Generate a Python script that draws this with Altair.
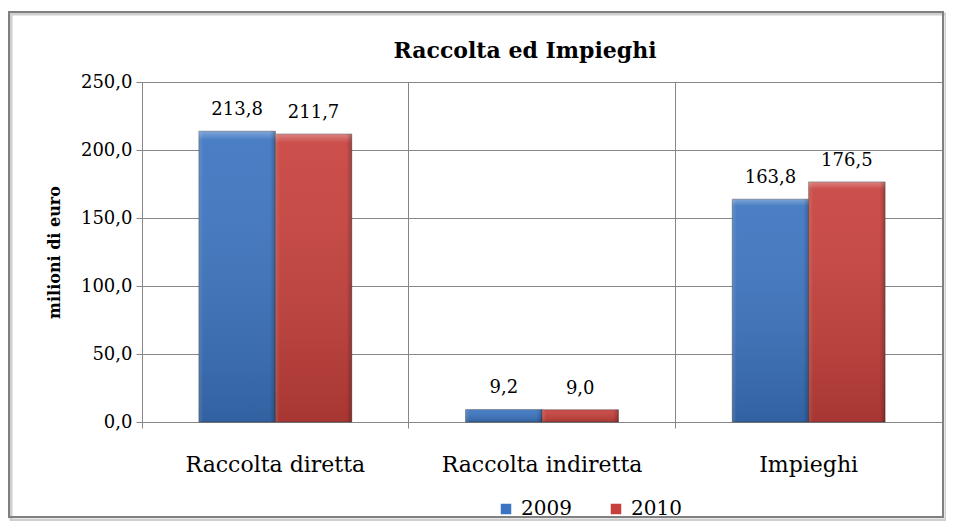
import altair as alt
import pandas as pd

categories = ["Raccolta diretta", "Raccolta indiretta", "Impieghi"]
years = ["2009", "2010"]
values_2009 = [213.8, 9.2, 163.8]
values_2010 = [211.7, 9.0, 176.5]
y_ticks = [0, 50, 100, 150, 200, 250]
series_colors = ["#3b74c0", "#c7403b"]
chart_title = "Raccolta ed Impieghi"

rows = []
for c, a, b in zip(categories, values_2009, values_2010):
    rows.append({"cat": c, "year": years[0], "val": a})
    rows.append({"cat": c, "year": years[1], "val": b})
df = pd.DataFrame(rows)
df["label"] = df["val"].map(lambda v: f"{v:.1f}".replace(".", ","))

FONT = "DejaVu Serif"
GRID = "#868686"
W, H = 800, 340

x = alt.X(
    "cat:N", sort=categories, title=None,
    scale=alt.Scale(paddingInner=0, paddingOuter=0),
    axis=alt.Axis(bandPosition=0, grid=True, gridColor=GRID, gridOpacity=1,
                  domainColor=GRID, tickColor=GRID, tickSize=6,
                  labelFont=FONT, labelFontSize=22, labelColor="black",
                  labelPadding=26, labelAngle=0, labelLimit=400),
)
xo = alt.XOffset("year:N", sort=years,
                 scale=alt.Scale(domain=years, paddingInner=0, paddingOuter=0.745))
y = alt.Y(
    "val:Q", scale=alt.Scale(domain=[0, 250], nice=False),
    axis=alt.Axis(values=y_ticks, labelExpr="replace(format(datum.value, '.1f'), '.', ',')",
                  title="milioni di euro", titleFont=FONT, titleFontSize=16,
                  titleFontWeight="bold", titleColor="black", titlePadding=18,
                  grid=True, gridColor=GRID, gridOpacity=1, domainColor=GRID,
                  tickColor=GRID, tickSize=6, labelFont=FONT, labelFontSize=18,
                  labelColor="black", labelPadding=4),
)
color = alt.Color(
    "year:N", sort=years, scale=alt.Scale(domain=years, range=series_colors),
    legend=alt.Legend(title=None, orient="none", legendX=354, legendY=417,
                      direction="horizontal", symbolType="square", symbolSize=110,
                      symbolStrokeWidth=0, symbolOpacity=1, labelFont=FONT,
                      labelFontSize=20, labelColor="black", labelOffset=5,
                      columnPadding=34),
)

frame_df = pd.DataFrame({"a": [0]})
shadow = alt.Chart(frame_df).mark_rect(fillOpacity=0, stroke="#cfcfcf", strokeWidth=3).encode(
    x=alt.value(-131), x2=alt.value(804), y=alt.value(-68), y2=alt.value(438))
frame = alt.Chart(frame_df).mark_rect(fillOpacity=0, stroke="#808080", strokeWidth=2).encode(
    x=alt.value(-133), x2=alt.value(801), y=alt.value(-70), y2=alt.value(435))
title = alt.Chart(pd.DataFrame({"t": [chart_title]})).mark_text(
    font=FONT, fontSize=22, fontWeight="bold", color="black",
    baseline="alphabetic", align="center").encode(
    x=alt.value(383), y=alt.value(-24), text="t:N")

bars = alt.Chart(df).mark_bar(strokeWidth=0.8, stroke="#333333", strokeOpacity=0.6).encode(
    x=x, xOffset=xo, y=y, color=color)

vgrad = alt.Chart(df).mark_bar(fill={
    "gradient": "linear", "x1": 0, "y1": 0, "x2": 0, "y2": 1,
    "stops": [
        {"offset": 0, "color": "rgba(255,255,255,0.35)"},
        {"offset": 0.03, "color": "rgba(255,255,255,0.08)"},
        {"offset": 1, "color": "rgba(0,0,0,0.16)"},
    ]}).encode(x=alt.X("cat:N", sort=categories), xOffset=xo, y=alt.Y("val:Q"))

hgrad = alt.Chart(df).mark_bar(fill={
    "gradient": "linear", "x1": 0, "y1": 0, "x2": 1, "y2": 0,
    "stops": [
        {"offset": 0, "color": "rgba(255,255,255,0.12)"},
        {"offset": 0.06, "color": "rgba(255,255,255,0.0)"},
        {"offset": 0.93, "color": "rgba(0,0,0,0.0)"},
        {"offset": 1, "color": "rgba(0,0,0,0.22)"},
    ]}).encode(x=alt.X("cat:N", sort=categories), xOffset=xo, y=alt.Y("val:Q"))

labels = alt.Chart(df).mark_text(font=FONT, fontSize=18, color="black",
                                 baseline="bottom", dy=-12).encode(
    x=alt.X("cat:N", sort=categories), xOffset=xo, y=alt.Y("val:Q"), text="label:N")

chart = alt.layer(shadow, frame, title, bars, vgrad, hgrad, labels).properties(
    width=W, height=H,
    autosize="none",
    padding={"left": 134, "top": 74, "right": 4, "bottom": 99},
).configure_view(stroke=GRID).configure(background="white")

chart.save("out.html", embed_options={"renderer": "svg", "actions": False})
